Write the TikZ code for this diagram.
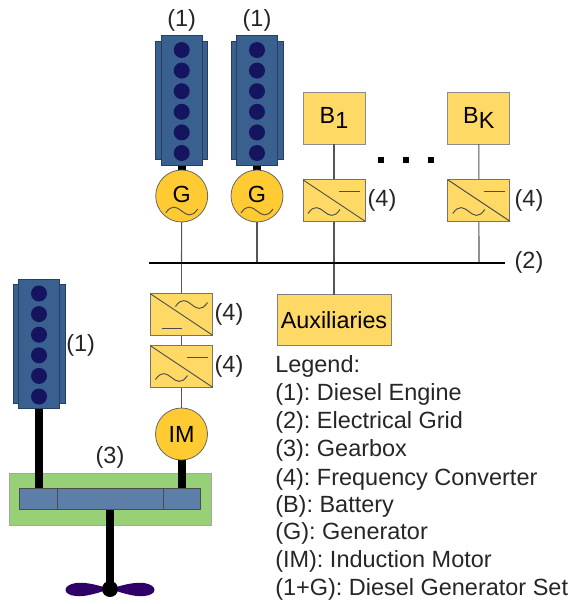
\documentclass[tikz,border=0pt]{standalone}
\usepackage{fontspec}
\setmainfont{Liberation Sans}
\frenchspacing
\definecolor{engblue}{HTML}{3A6090}
\definecolor{engedge}{HTML}{243F5F}
\definecolor{cyl}{HTML}{14145F}
\definecolor{yel}{HTML}{FFD966}
\definecolor{gen}{HTML}{FFCA32}
\definecolor{grn}{HTML}{97D077}
\definecolor{gbx}{HTML}{5D7EA8}
\definecolor{prop}{HTML}{2E0068}
\definecolor{ln}{HTML}{555555}
\tikzset{
 lab/.style={font=\fontsize{17.6}{20}\selectfont,inner sep=0pt,text=black!85},
 conv/.style={draw=black!55,fill=yel,line width=.7pt,minimum width=46.5pt,minimum height=31pt,inner sep=0pt,outer sep=0pt},
 batt/.style={draw=black!45,fill=yel,line width=.6pt,minimum width=46.5pt,minimum height=39pt,inner sep=0pt,outer sep=0pt,font=\fontsize{17.5}{20}\selectfont},
 mach/.style={circle,draw=black!60,fill=gen,line width=.6pt,minimum size=39pt,inner sep=0pt,outer sep=0pt,font=\fontsize{17.5}{20}\selectfont},
 wire/.style={draw=ln,line width=.8pt},
 shaft/.style={draw=black,line width=6pt},
 sym/.style={draw=black!70,line width=.7pt},
}
% engine: #1 name, #2 cx, #3 top y of body
\newcommand{\engine}[3]{%
 \node[draw=engedge,fill=engblue,line width=.6pt,minimum width=39pt,minimum height=89pt,inner sep=0pt,outer sep=0pt] (#1s) at (#2,#3+64.5) {};
 \node[draw=engedge,fill=engblue,line width=.7pt,minimum width=31pt,minimum height=97pt,inner sep=0pt,outer sep=0pt] (#1) at (#2,#3+64.5) {};
 \foreach \k in {0,...,5}{\fill[cyl] (#2,#3+14+\k*20.6) circle (8);}
}
\newcommand{\wave}[2]{%
 \draw[sym] (#1-16,#2+2) .. controls (#1-10,#2-7) and (#1-5,#2-4) .. (#1,#2) .. controls (#1+5,#2+4) and (#1+10,#2+7) .. (#1+16,#2-2);}
% converter, dc top right
\newcommand{\convdc}[3]{%
 \node[conv] (#1) at (#2,#3) {};
 \draw[sym] (#1.north west) -- (#1.south east);
 \draw[sym] (#2+5,#3-9) -- (#2+26,#3-9);
 \wave{#2-10}{#3+11}}
% converter, ac top right
\newcommand{\convac}[3]{%
 \node[conv] (#1) at (#2,#3) {};
 \draw[sym] (#1.north west) -- (#1.south east);
 \wave{#2+10}{#3-10}
 \draw[sym] (#2-20,#3+14) -- (#2,#3+14);}
\begin{document}
\begin{tikzpicture}[x=0.75pt,y=-0.75pt]
\useasboundingbox (0,0) rectangle (570,604);
% gearbox
\node[draw=black!35,fill=grn,line width=.7pt,minimum width=151.5pt,minimum height=39pt,inner sep=0pt,outer sep=0pt] (gb) at (110,499) {};
% shafts and machines
\coordinate (ph) at (110,589);
\draw[shaft] (38.5,400) -- (38.5,489);
\draw[shaft] (181.5,430) -- (181.5,489);
\draw[shaft] (110,505) -- (ph);
\draw[shaft] (181.7,160) -- (181.7,175);
\draw[shaft] (257,160) -- (257,175);
\node[draw=black!70,fill=gbx,line width=.7pt,minimum width=135.5pt,minimum height=15.5pt,inner sep=0pt,outer sep=0pt] (gi) at (110.2,499) {};
\draw[draw=black!70,line width=.7pt] (57.5,488.5) -- (57.5,509.5) (163.5,488.5) -- (163.5,509.5);
% propeller
\fill[prop] (110,589) .. controls (95,584) and (84,582) .. (76,583) .. controls (62,585) and (62,595) .. (76,596) .. controls (84,597) and (95,594) .. (110,589);
\fill[prop] (110,589) .. controls (125,584) and (136,582) .. (144,583) .. controls (158,585) and (158,595) .. (144,596) .. controls (136,597) and (125,594) .. (110,589);
\fill[black] (ph) circle (8);
% engines
\engine{e1}{181.7}{36}
\engine{e2}{257}{36}
\engine{e3}{39}{279.5}
% generators
\node[mach] (g1) at (181.7,196) {\raisebox{2pt}{G}};
\node[mach] (g2) at (257,196) {\raisebox{2pt}{G}};
\wave{181.7}{211}
\wave{257}{211}
% batteries and converters
\node[batt] (b1) at (334,118) {B\raisebox{-4pt}{1}};
\node[batt] (bk) at (478.8,118) {B\raisebox{-4pt}{K}};
\coordinate (t1) at (333.5,263);
\coordinate (t2) at (479,263);
\coordinate (t3) at (181.5,263);
\coordinate (t4) at (257,263);
\coordinate (busl) at (149,263);
\coordinate (busr) at (505,263);
\node[draw=black!50,fill=yel,line width=.7pt,minimum width=85.5pt,minimum height=38pt,inner sep=0pt,outer sep=0pt,font=\fontsize{17.5}{20}\selectfont] (aux) at (334,320) {Auxiliaries};
\node[mach] (im) at (181.5,434) {IM};
% wires
\draw[wire] (g1) -- (t3);
\draw[wire] (g2) -- (t4);
\draw[wire] (b1) -- (aux);
\draw[wire] (bk) -- (t2);
\draw[wire] (t3) -- (im);
\draw[draw=black,line width=2.2pt] (busl) -- (busr);
% converters
\convdc{c1}{334}{200.5}
\convdc{c2}{478.8}{200.5}
\convac{c3}{181.5}{314.5}
\convdc{c4}{181.5}{366.5}
% dots
\foreach \x/\n in {381/d1,406/d2,431/d3}{\fill[black] (\x-3,157) rectangle (\x+3,163);}
% labels
\node[lab] (l1) at (181.7,20) {(1)};
\node[lab] (l2) at (257,20) {(1)};
\node[lab] (l3) at (80.7,345) {(1)};
\node[lab] (l4) at (110,457) {(3)};
\node[lab] (l5) at (382,200) {(4)};
\node[lab] (l6) at (529,200) {(4)};
\node[lab] (l7) at (529,262) {(2)};
\node[lab] (l8) at (229,314) {(4)};
\node[lab] (l9) at (229,366) {(4)};
\node[lab,anchor=west] (t0) at (275,366) {Legend:};
\node[lab,anchor=west] (t1x) at (275,394) {(1): Diesel Engine};
\node[lab,anchor=west] (t2x) at (275,422) {(2): Electrical Grid};
\node[lab,anchor=west] (t3x) at (275,450) {(3): Gearbox};
\node[lab,anchor=west] (t4x) at (275,479) {(4): Frequency Converter};
\node[lab,anchor=west] (t5x) at (275,506) {(B): Battery};
\node[lab,anchor=west] (t6x) at (275,533) {(G): Generator};
\node[lab,anchor=west] (t7x) at (275,561) {(IM): Induction Motor};
\node[lab,anchor=west] (t8x) at (275,589) {(1+G): Diesel Generator Set};
\end{tikzpicture}
\end{document}
